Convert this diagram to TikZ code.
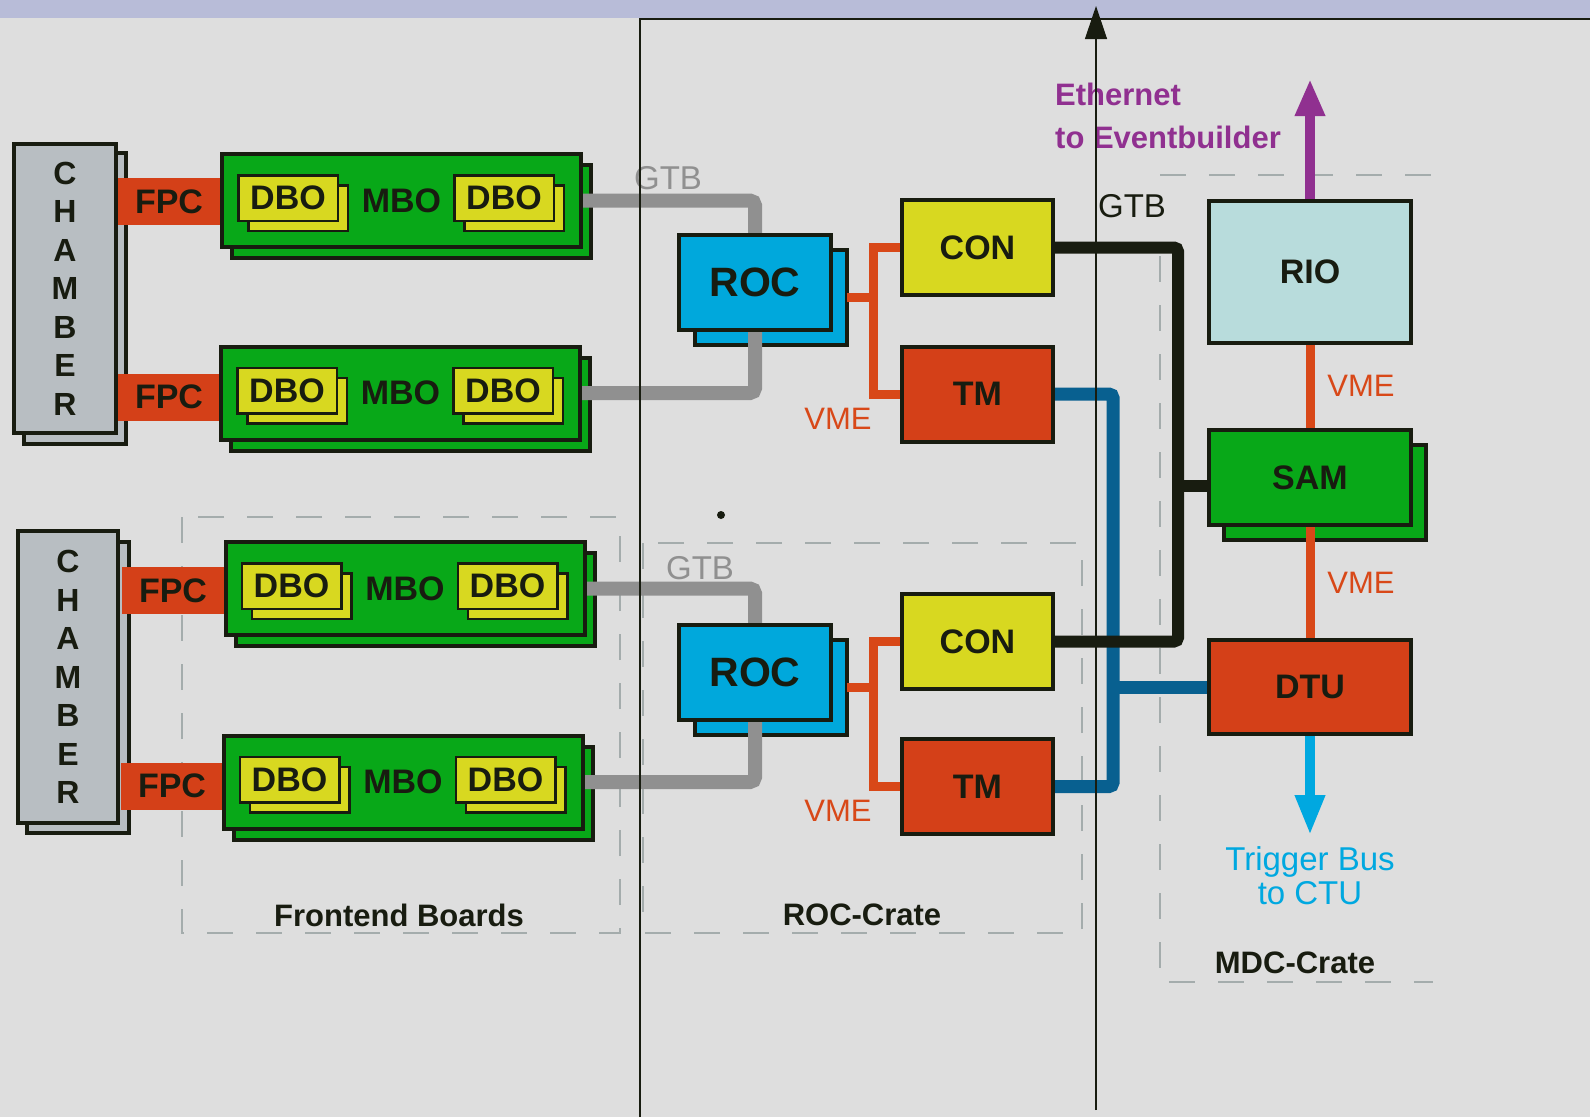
\documentclass[tikz,border=0pt]{standalone}
\usepackage{fontspec}
\setmainfont{Liberation Sans}
\usetikzlibrary{arrows.meta,calc}
\pgfdeclarelayer{bgfill}
\pgfdeclarelayer{back}
\pgfdeclarelayer{mid}
\pgfsetlayers{bgfill,back,mid,main}
\definecolor{bgc}{HTML}{DEDEDE}
\definecolor{bandc}{HTML}{B8BCD8}
\definecolor{inkc}{HTML}{181C10}
\definecolor{chamc}{HTML}{B8BEC2}
\definecolor{orc}{HTML}{D44018}
\definecolor{grc}{HTML}{08A818}
\definecolor{yec}{HTML}{D8D820}
\definecolor{rocc}{HTML}{00A8DC}
\definecolor{rioc}{HTML}{B8DCDC}
\definecolor{gtbc}{HTML}{909090}
\definecolor{bluec}{HTML}{086090}
\definecolor{purc}{HTML}{903090}
\definecolor{cyac}{HTML}{00A8E0}
\definecolor{dashc}{HTML}{A4ACAC}
\definecolor{vmec}{HTML}{D84818}

\newcommand\MBOgroup[3]{%
  \begin{pgfonlayer}{back}
    \node[mbobox] (#1s) at ($(#2,#3)+(10,11)$) {};
  \end{pgfonlayer}
  \node[mbobox] (#1) at (#2,#3) {MBO};
  \node[dbobox] (#1ls) at ($(#2,#3)+(-103.5,7.5)$) {};
  \node[dbobox] (#1l) at ($(#2,#3)+(-113.5,-2.5)$) {DBO};
  \node[dbobox] (#1rs) at ($(#2,#3)+(112.5,7.5)$) {};
  \node[dbobox] (#1r) at ($(#2,#3)+(102.5,-2.5)$) {DBO};
}

\begin{document}
\begin{tikzpicture}[x=1pt,y=-1pt,
  boxfont/.style={font=\fontsize{34}{40}\selectfont\bfseries, text=inkc},
  chambox/.style={draw=inkc, fill=chamc, line width=4pt, inner sep=0pt, outer sep=0pt, align=center,
     font=\fontsize{32}{38.5}\selectfont\bfseries, text=inkc},
  fpcbox/.style={fill=orc, minimum width=102pt, minimum height=47pt, inner sep=0pt, outer sep=0pt, boxfont},
  mbobox/.style={draw=inkc, fill=grc, line width=4pt, minimum width=359pt, minimum height=93pt, inner sep=0pt, outer sep=0pt, boxfont},
  dbobox/.style={draw=inkc, fill=yec, line width=2.5pt, minimum width=99.5pt, minimum height=45.5pt, inner sep=0pt, outer sep=0pt, boxfont},
  rocbox/.style={draw=inkc, fill=rocc, line width=4pt, minimum width=152pt, minimum height=95pt, inner sep=0pt, outer sep=0pt,
     font=\fontsize{41}{48}\selectfont\bfseries, text=inkc},
  conbox/.style={draw=inkc, fill=yec, line width=4pt, minimum width=151pt, minimum height=95pt, inner sep=0pt, outer sep=0pt, boxfont},
  tmbox/.style={draw=inkc, fill=orc, line width=4pt, minimum width=151pt, minimum height=95pt, inner sep=0pt, outer sep=0pt, boxfont},
  riobox/.style={draw=inkc, fill=rioc, line width=4pt, minimum width=202pt, minimum height=142pt, inner sep=0pt, outer sep=0pt, boxfont},
  sambox/.style={draw=inkc, fill=grc, line width=4pt, minimum width=202pt, minimum height=95pt, inner sep=0pt, outer sep=0pt, boxfont},
  dtubox/.style={draw=inkc, fill=orc, line width=4pt, minimum width=202pt, minimum height=94pt, inner sep=0pt, outer sep=0pt, boxfont},
  gtbline/.style={draw=gtbc, line width=14pt, rounded corners=5pt},
  vmeline/.style={draw=vmec, line width=9pt},
  blkline/.style={draw=inkc, line width=12pt, rounded corners=4pt},
  blueline/.style={draw=bluec, line width=13pt, rounded corners=4pt},
  dashbox/.style={draw=dashc, line width=2pt, dash pattern=on 26pt off 23pt},
  thinline/.style={draw=inkc, line width=1.2pt},
  lbl/.style={inner sep=0pt, font=\fontsize{33}{40}\selectfont},
  cratelbl/.style={inner sep=0pt, font=\fontsize{31}{36}\selectfont\bfseries, text=inkc},
]
\useasboundingbox (0,0) rectangle (1590,1117);
\begin{pgfonlayer}{bgfill}
\fill[bgc] (0,0) rectangle (1590,1117);
\fill[bandc] (0,0) rectangle (1590,18);
\end{pgfonlayer}

% dashed crate frames
\begin{pgfonlayer}{back}
\draw[dashbox] (182,517) rectangle (620,933);
\draw[dashbox] (643,543) rectangle (1082,933);
\draw[dashbox] (1160,175) -- (1433,175);
\draw[dashbox] (1160,256) -- (1160,982) -- (1433,982);
\end{pgfonlayer}

% chambers
\begin{pgfonlayer}{back}
\node[chambox, minimum width=102pt, minimum height=291pt] (ch1s) at (75,298.5) {};
\node[chambox, minimum width=102pt, minimum height=291pt] (ch2s) at (78,687.5) {};
\end{pgfonlayer}
\node[chambox, minimum width=102pt, minimum height=289pt] (ch1) at (65,288.5) {C\\H\\A\\M\\B\\E\\R};
\node[chambox, minimum width=100pt, minimum height=292pt] (ch2) at (68,677) {C\\H\\A\\M\\B\\E\\R};

% FPC
\node[fpcbox] (fpc1) at (169,201.5) {FPC};
\node[fpcbox] (fpc2) at (169,397) {FPC};
\node[fpcbox] (fpc3) at (173,590.5) {FPC};
\node[fpcbox] (fpc4) at (172,786) {FPC};

% MBO groups
\MBOgroup{mbo1}{401.5}{200.5}
\MBOgroup{mbo2}{400.5}{393}
\MBOgroup{mbo3}{405}{588.5}
\MBOgroup{mbo4}{403}{782}

% ROC
\begin{pgfonlayer}{back}
\node[rocbox] (roc1s) at (771,297.5) {};
\node[rocbox] (roc2s) at (771,687.5) {};
\node[sambox] (sams) at (1325,492.5) {};
\end{pgfonlayer}
\node[rocbox] (roc1) at (755,282.5) {ROC};
\node[rocbox] (roc2) at (755,672.5) {ROC};

% CON / TM
\node[conbox] (con1) at (977.5,247.5) {CON};
\node[tmbox] (tm1) at (977.5,394) {TM};
\node[conbox] (con2) at (977.5,641.5) {CON};
\node[tmbox] (tm2) at (977.5,786.5) {TM};

% MDC crate
\node[riobox] (rio) at (1310,272) {RIO};
\node[sambox] (sam) at (1310,477.5) {SAM};
\node[dtubox] (dtu) at (1310,687) {DTU};

\coordinate (gtbbus) at (1178,486);
\coordinate (bluebus) at (1113,687);
\coordinate (ethtip) at (1310,79);
\coordinate (trigtip) at (1310,835);

% connectors
\begin{pgfonlayer}{mid}
\draw[gtbline] (mbo1.east) -| (roc1.north);
\draw[gtbline] (roc1.south) |- (mbo2.east);
\draw[gtbline] (mbo3.east) -| (roc2.north);
\draw[gtbline] (roc2.south) |- (mbo4.east);
\draw[vmeline] (roc1s.east) -- ++(26,0) coordinate (vb1);
\draw[vmeline] (con1.west) -| (vb1) |- (tm1.west);
\draw[vmeline] (roc2s.east) -- ++(26,0) coordinate (vb2);
\draw[vmeline] (con2.west) -| (vb2) |- (tm2.west);
\draw[blueline] (tm1.east) -| (bluebus) |- (tm2.east);
\draw[blueline] (dtu.west) -- (bluebus);
\draw[blkline] (con1.east) -| (gtbbus) |- (con2.east);
\draw[blkline] (sam.west |- gtbbus) -- (gtbbus);
\draw[vmeline] (rio.south) -- (sam.north);
\draw[vmeline] (sam.south) -- (dtu.north);
\draw[draw=purc, line width=9.5pt, -{Triangle[width=28pt,length=37pt]}] (rio.north) -- (ethtip);
\draw[draw=cyac, line width=9.5pt, -{Triangle[width=28pt,length=40pt]}] (dtu.south) -- (trigtip);
\end{pgfonlayer}

% labels
\node[lbl, text=gtbc] (gtb1) at (668,178) {GTB};
\node[lbl, text=gtbc] (gtb2) at (700,568) {GTB};
\node[lbl, text=inkc] (gtb3) at (1132,206) {GTB};
\node[lbl, text=vmec, font=\fontsize{31}{36}\selectfont] (vme1) at (838,419) {VME};
\node[lbl, text=vmec, font=\fontsize{31}{36}\selectfont] (vme2) at (838,811) {VME};
\node[lbl, text=vmec, font=\fontsize{31}{36}\selectfont] (vme3) at (1361,386) {VME};
\node[lbl, text=vmec, font=\fontsize{31}{36}\selectfont] (vme4) at (1361,583) {VME};
\node[lbl, text=purc, font=\fontsize{31}{43}\selectfont\bfseries, align=left, anchor=west] (eth) at (1055,115.5) {Ethernet\\to Eventbuilder};
\node[lbl, text=cyac, font=\fontsize{33}{34}\selectfont, align=center] (trig) at (1310,876) {Trigger Bus\\to CTU};
\node[cratelbl] (fel) at (399,915) {Frontend Boards};
\node[cratelbl] (rcl) at (862,915) {ROC-Crate};
\node[cratelbl] (mcl) at (1295,963) {MDC-Crate};

% thin overlay lines
\coordinate (frameA) at (640,1117);
\coordinate (frameB) at (1590,19);
\coordinate (thinbot) at (1096,1110);
\coordinate (thintop) at (1096,6);
\draw[thinline] (frameA) |- (frameB);
\draw[thinline, -{Triangle[width=22pt,length=33pt]}] (thinbot) -- (thintop);
\node[circle, fill=inkc, minimum size=8pt, inner sep=0pt] (dot) at (721,515) {};
\end{tikzpicture}
\end{document}
